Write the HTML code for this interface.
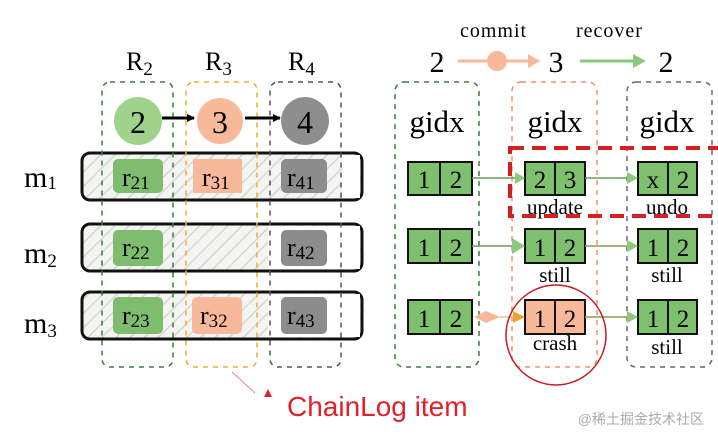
<!DOCTYPE html>
<html><head><meta charset="utf-8"><style>
html,body{margin:0;padding:0;background:#fff;}
svg{display:block;}
.s{font-family:"Liberation Serif",serif;fill:#000;}
</style></head><body>
<svg width="718" height="444" viewBox="0 0 718 444" xmlns="http://www.w3.org/2000/svg">
<defs>
<pattern id="h" width="10" height="10" patternUnits="userSpaceOnUse" patternTransform="rotate(45)">
<rect width="10" height="10" fill="#f4f4f2"/>
<line x1="0" y1="0" x2="0" y2="10" stroke="#d6d6d2" stroke-width="3"/>
</pattern>
<marker id="ab" markerWidth="8" markerHeight="8" refX="7" refY="4" orient="auto" markerUnits="userSpaceOnUse"><path d="M0,0 L8,4 L0,8z" fill="#000"/></marker>
</defs>

<!-- left labels -->
<text class="s" x="126" y="70" font-size="26">R<tspan font-size="19" dy="5">2</tspan></text>
<text class="s" x="205" y="70" font-size="26">R<tspan font-size="19" dy="5">3</tspan></text>
<text class="s" x="288" y="70" font-size="26">R<tspan font-size="19" dy="5">4</tspan></text>

<!-- rows -->
<rect x="82" y="153" width="280" height="47" rx="8" fill="url(#h)" stroke="#111" stroke-width="3"/>
<rect x="82" y="224" width="280" height="47" rx="8" fill="url(#h)" stroke="#111" stroke-width="3"/>
<rect x="82" y="292" width="280" height="47" rx="8" fill="url(#h)" stroke="#111" stroke-width="3"/>
<rect x="268" y="226" width="92" height="43" fill="#fff"/>
<rect x="268" y="294" width="92" height="43" fill="#fff"/>
<rect x="342" y="155" width="18" height="43" fill="#fff"/>

<!-- column dashed boxes -->
<rect x="102" y="82" width="71" height="285" rx="8" fill="none" stroke="#3e7a3e" stroke-width="1.5" stroke-dasharray="5,5"/>
<rect x="186" y="82" width="71" height="285" rx="8" fill="none" stroke="#e7b030" stroke-width="1.5" stroke-dasharray="5,5"/>
<rect x="270" y="82" width="71" height="285" rx="8" fill="none" stroke="#555" stroke-width="1.5" stroke-dasharray="5,5"/>

<!-- circles -->
<circle cx="138" cy="121" r="24" fill="#9fd38c"/>
<circle cx="220" cy="121" r="23" fill="#f7b99a"/>
<circle cx="305" cy="121" r="24" fill="#8e8e8e"/>
<text class="s" x="138" y="133" font-size="32" text-anchor="middle">2</text>
<text class="s" x="220" y="133" font-size="32" text-anchor="middle">3</text>
<text class="s" x="305" y="133" font-size="32" text-anchor="middle">4</text>
<line x1="162" y1="118" x2="194" y2="118" stroke="#000" stroke-width="3" marker-end="url(#ab)"/>
<line x1="245" y1="118" x2="280" y2="118" stroke="#000" stroke-width="3" marker-end="url(#ab)"/>

<!-- m labels -->
<text class="s" x="24" y="187" font-size="30">m<tspan font-size="19" dy="2">1</tspan></text>
<text class="s" x="24" y="263" font-size="30">m<tspan font-size="19" dy="4">2</tspan></text>
<text class="s" x="24" y="333" font-size="30">m<tspan font-size="19" dy="4">3</tspan></text>

<!-- r boxes -->
<g font-family="Liberation Serif,serif">
<rect x="113" y="159" width="50" height="34" rx="5" fill="#7fbd6e"/>
<rect x="193" y="159" width="49" height="34" fill="#f7b99a"/>
<rect x="281" y="159" width="46" height="34" rx="5" fill="#8c8c8c"/>
<rect x="113" y="230" width="50" height="36" rx="5" fill="#7fbd6e"/>
<rect x="281" y="230" width="46" height="36" rx="5" fill="#8c8c8c"/>
<rect x="113" y="297" width="50" height="37" rx="5" fill="#7fbd6e"/>
<rect x="192" y="297" width="50" height="37" rx="5" fill="#f7b99a"/>
<rect x="281" y="297" width="46" height="37" rx="5" fill="#8c8c8c"/>
<text x="122" y="186" font-size="26">r<tspan font-size="19" dy="3">21</tspan></text>
<text x="202" y="186" font-size="26">r<tspan font-size="19" dy="3">31</tspan></text>
<text x="287" y="186" font-size="26">r<tspan font-size="19" dy="3">41</tspan></text>
<text x="122" y="256" font-size="26">r<tspan font-size="19" dy="3">22</tspan></text>
<text x="287" y="256" font-size="26">r<tspan font-size="19" dy="3">42</tspan></text>
<text x="122" y="324" font-size="26">r<tspan font-size="19" dy="3">23</tspan></text>
<text x="200" y="324" font-size="26">r<tspan font-size="19" dy="3">32</tspan></text>
<text x="287" y="324" font-size="26">r<tspan font-size="19" dy="3">43</tspan></text>
</g>

<!-- ChainLog -->
<line x1="232" y1="372" x2="255" y2="393" stroke="#d88" stroke-width="1"/>
<path d="M264,397 L268,389 L272,397z" fill="#e0202a"/>
<text x="287" y="416" font-family="Liberation Sans,sans-serif" font-size="28" fill="#e0202a">ChainLog item</text>

<!-- right top -->
<text class="s" x="437" y="72" font-size="30" text-anchor="middle">2</text>
<text class="s" x="556" y="72" font-size="30" text-anchor="middle">3</text>
<text class="s" x="666" y="72" font-size="30" text-anchor="middle">2</text>
<text class="s" x="460" y="37" font-size="20" letter-spacing="1">commit</text>
<text class="s" x="576" y="37" font-size="20" letter-spacing="1">recover</text>
<line x1="458" y1="61" x2="530" y2="61" stroke="#f7b99a" stroke-width="3"/>
<path d="M528,54 L540,61 L528,68z" fill="#f7b99a"/>
<circle cx="497" cy="61" r="10" fill="#f7b99a"/>
<line x1="580" y1="61" x2="635" y2="61" stroke="#8cc97a" stroke-width="3"/>
<path d="M633,54 L646,61 L633,68z" fill="#8cc97a"/>

<!-- right dashed boxes -->
<rect x="395" y="82" width="84" height="285" rx="9" fill="none" stroke="#3e7a3e" stroke-width="1.5" stroke-dasharray="5,5"/>
<rect x="512" y="82" width="85" height="285" rx="9" fill="none" stroke="#ee9070" stroke-width="1.5" stroke-dasharray="5,5"/>
<rect x="627" y="82" width="85" height="285" rx="9" fill="none" stroke="#667" stroke-width="1.5" stroke-dasharray="5,5"/>
<text class="s" x="437" y="132" font-size="31" text-anchor="middle">gidx</text>
<text class="s" x="555" y="132" font-size="31" text-anchor="middle">gidx</text>
<text class="s" x="667" y="132" font-size="31" text-anchor="middle">gidx</text>

<!-- cells -->
<g stroke="#111" stroke-width="2">
<rect x="408" y="162" width="64" height="33" fill="#7fc06e"/><line x1="440" y1="162" x2="440" y2="195"/>
<rect x="525" y="162" width="60" height="33" fill="#7fc06e"/><line x1="555" y1="162" x2="555" y2="195"/>
<rect x="638" y="162" width="59" height="33" fill="#7fc06e"/><line x1="668" y1="162" x2="668" y2="195"/>
<rect x="408" y="229" width="64" height="34" fill="#7fc06e"/><line x1="440" y1="229" x2="440" y2="263"/>
<rect x="525" y="229" width="60" height="34" fill="#7fc06e"/><line x1="555" y1="229" x2="555" y2="263"/>
<rect x="638" y="229" width="59" height="34" fill="#7fc06e"/><line x1="668" y1="229" x2="668" y2="263"/>
<rect x="408" y="300" width="64" height="34" fill="#7fc06e"/><line x1="440" y1="300" x2="440" y2="334"/>
<rect x="525" y="300" width="60" height="34" fill="#f7b99a"/><line x1="555" y1="300" x2="555" y2="334"/>
<rect x="638" y="300" width="59" height="34" fill="#7fc06e"/><line x1="668" y1="300" x2="668" y2="334"/>
</g>
<g class="s" font-size="25" text-anchor="middle" font-family="Liberation Serif,serif">
<text x="424" y="188">1</text><text x="456" y="188">2</text>
<text x="540" y="188">2</text><text x="570" y="188">3</text>
<text x="653" y="188">x</text><text x="683" y="188">2</text>
<text x="424" y="256">1</text><text x="456" y="256">2</text>
<text x="540" y="256">1</text><text x="570" y="256">2</text>
<text x="653" y="256">1</text><text x="683" y="256">2</text>
<text x="424" y="327">1</text><text x="456" y="327">2</text>
<text x="540" y="327">1</text><text x="570" y="327">2</text>
<text x="653" y="327">1</text><text x="683" y="327">2</text>
<text x="555" y="214" font-size="21">update</text>
<text x="667" y="214" font-size="21">undo</text>
<text x="555" y="282" font-size="21">still</text>
<text x="667" y="282" font-size="21">still</text>
<text x="555" y="350" font-size="21">crash</text>
<text x="667" y="354" font-size="21">still</text>
</g>

<!-- connectors -->
<g stroke-width="1.5">
<line x1="472" y1="178" x2="518" y2="178" stroke="#6a9a5a"/><path d="M515,172 L525,178 L515,184z" fill="#8cc97a"/>
<line x1="585" y1="178" x2="630" y2="178" stroke="#6a9a5a"/><path d="M627,172 L638,178 L627,184z" fill="#8cc97a"/>
<line x1="472" y1="246" x2="518" y2="246" stroke="#6a9a5a"/><path d="M512,238 L525,246 L512,254z" fill="#8cc97a"/>
<line x1="585" y1="246" x2="630" y2="246" stroke="#8a9a5a"/><path d="M627,240 L638,246 L627,252z" fill="#8cc97a"/>
<path d="M474,317 L486,311 L500,317 L486,323z" fill="#f7b99a"/><line x1="500" y1="317" x2="515" y2="317" stroke="#f7b99a"/>
<path d="M513,311 L525,317 L513,323z" fill="#f5a030"/>
<line x1="585" y1="317" x2="630" y2="317" stroke="#9a9a4a"/><path d="M627,311 L638,317 L627,323z" fill="#8cc97a"/>
</g>

<!-- red highlights -->
<rect x="510" y="148" width="210" height="68" fill="none" stroke="#d42020" stroke-width="4" stroke-dasharray="14,8"/>
<circle cx="556" cy="335" r="50" fill="none" stroke="#c02020" stroke-width="1.5"/>

<text x="704" y="424" font-family="Liberation Sans,'Noto Sans CJK SC',sans-serif" font-size="14" fill="#aaa" text-anchor="end">@稀土掘金技术社区</text>
</svg>
</body></html>
